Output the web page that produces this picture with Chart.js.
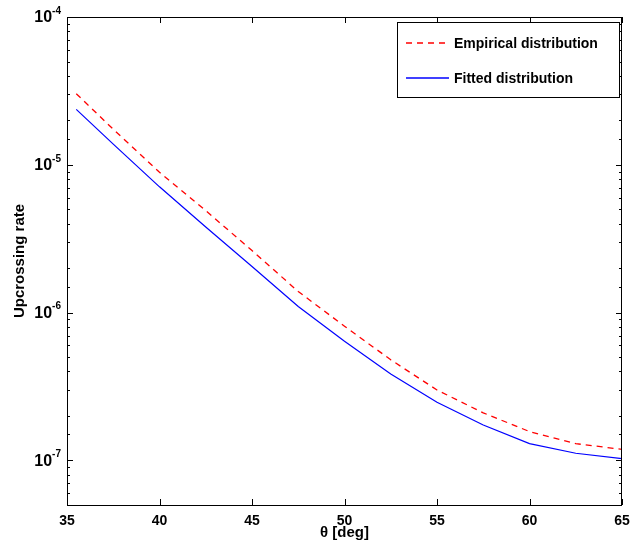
<!DOCTYPE html>
<html>
<head>
<meta charset="utf-8">
<script src="https://cdn.jsdelivr.net/npm/chart.js@4/dist/chart.umd.min.js"></script>
<style>
  html, body { margin: 0; padding: 0; background: #fff; }
  #wrap { width: 630px; height: 550px; }
</style>
</head>
<body>
<div id="wrap"><canvas id="rateChart" width="630" height="550"></canvas></div>
<script>
// angle in degrees
const theta = [35.5, 37.5, 40, 42.5, 45, 47.5, 50, 52.5, 55, 57.5, 60, 62.5, 65];
const empirical = [3.03e-5, 1.74e-5, 8.9e-6, 4.9e-6, 2.63e-6, 1.39e-6, 8.1e-7, 4.8e-7, 3.0e-7, 2.1e-7, 1.57e-7, 1.3e-7, 1.19e-7];
const fitted = [2.37e-5, 1.38e-5, 7.1e-6, 3.8e-6, 2.05e-6, 1.1e-6, 6.4e-7, 3.85e-7, 2.48e-7, 1.74e-7, 1.3e-7, 1.12e-7, 1.03e-7];
const xTicks = [35, 40, 45, 50, 55, 60, 65];
const yDecades = [-7, -6, -5, -4];

const FONT = "'Liberation Sans', Arial, sans-serif";

function toPoints(ys) {
  return theta.map((t, i) => ({ x: t, y: ys[i] }));
}

// frame, inward ticks, log labels and legend, drawn MATLAB style
const axesPlugin = {
  id: "axesPlugin",
  afterDraw(chart) {
    const ctx = chart.ctx;
    const a = chart.chartArea;
    const xs = chart.scales.x, ys = chart.scales.y;
    ctx.save();
    ctx.strokeStyle = "#000";
    ctx.lineWidth = 1;
    ctx.strokeRect(a.left + 0.5, a.top + 0.5, a.right - a.left - 1, a.bottom - a.top);

    // x ticks
    ctx.beginPath();
    xTicks.forEach(v => {
      const px = Math.round(xs.getPixelForValue(v)) + 0.5;
      ctx.moveTo(px, a.bottom); ctx.lineTo(px, a.bottom - 6);
      ctx.moveTo(px, a.top); ctx.lineTo(px, a.top + 6);
    });
    // y ticks (major + minor)
    ys.ticks.forEach(t => {
      const v = t.value;
      const m = v / Math.pow(10, Math.floor(Math.log10(v) + 1e-9));
      const major = Math.abs(m - 1) < 1e-6;
      const len = major ? 6 : 3;
      const py = Math.round(ys.getPixelForValue(v)) + 0.5;
      ctx.moveTo(a.left, py); ctx.lineTo(a.left + len, py);
      ctx.moveTo(a.right, py); ctx.lineTo(a.right - len, py);
    });
    ctx.stroke();

    // y labels 10^n
    ctx.fillStyle = "#000";
    ctx.textBaseline = "middle";
    yDecades.forEach(e => {
      const py = ys.getPixelForValue(Math.pow(10, e));
      ctx.font = "bold 10px " + FONT;
      ctx.textAlign = "left";
      const expText = "-" + Math.abs(e);
      const ew = ctx.measureText(expText).width;
      const right = a.left - 6;
      ctx.fillText(expText, right - ew, py - 6);
      ctx.font = "bold 16px " + FONT;
      ctx.textAlign = "right";
      ctx.fillText("10", right - ew, py + 1);
    });

    // axis titles
    ctx.font = "bold 15px " + FONT;
    ctx.textAlign = "center";
    ctx.fillText("\u03b8 [deg]", (a.left + a.right) / 2, 533);
    ctx.save();
    ctx.translate(20, (a.top + a.bottom) / 2);
    ctx.rotate(-Math.PI / 2);
    ctx.fillText("Upcrossing rate", 0, 0);
    ctx.restore();

    // legend
    const lx = 397, ly = 22, lw = a.right - 397 - 3, lh = 75;
    ctx.fillStyle = "#fff";
    ctx.fillRect(lx, ly, lw, lh);
    ctx.strokeStyle = "#000";
    ctx.lineWidth = 1;
    ctx.strokeRect(lx + 0.5, ly + 0.5, lw, lh);
    const legendColors = ["#ff0000", "#0000ff"];
    chart.data.datasets.forEach((ds, i) => {
      const yy = ly + 21 + i * 35;
      ctx.beginPath();
      ctx.strokeStyle = legendColors[i];
      ctx.lineWidth = 1.3;
      ctx.setLineDash(ds.borderDash || []);
      ctx.moveTo(406, yy); ctx.lineTo(449, yy);
      ctx.stroke();
      ctx.setLineDash([]);
      ctx.fillStyle = "#000";
      ctx.font = "bold 14px " + FONT;
      ctx.textAlign = "left";
      ctx.fillText(ds.label, 454, yy + 1);
    });
    ctx.restore();
  }
};

new Chart(document.getElementById("rateChart"), {
  type: "line",
  data: {
    datasets: [
      {
        label: "Empirical distribution",
        data: toPoints(empirical),
        borderColor: "#ff0000",
        borderWidth: 1.3,
        borderDash: [6, 5],
        pointRadius: 0,
        tension: 0
      },
      {
        label: "Fitted distribution",
        data: toPoints(fitted),
        borderColor: "#0000ff",
        borderWidth: 1.2,
        pointRadius: 0,
        tension: 0
      }
    ]
  },
  options: {
    responsive: false,
    animation: false,
    layout: { padding: { top: 17, right: 8, left: 0, bottom: 0 } },
    plugins: { legend: { display: false }, tooltip: { enabled: false } },
    scales: {
      x: {
        type: "linear",
        min: 35,
        max: 65,
        afterFit: s => { s.height = 45; s.paddingLeft = 0; s.paddingRight = 0; },
        afterBuildTicks: s => { s.ticks = xTicks.map(v => ({ value: v })); },
        grid: { display: false, drawTicks: false },
        border: { display: false },
        ticks: {
          padding: 8,
          color: "#000",
          font: { family: FONT, size: 14, weight: "bold" }
        }
      },
      y: {
        type: "logarithmic",
        min: 5e-8,
        max: 1e-4,
        afterFit: s => { s.width = 67; s.paddingTop = 0; s.paddingBottom = 0; },
        grid: { display: false, drawTicks: false },
        border: { display: false },
        ticks: { display: false }
      }
    }
  },
  plugins: [axesPlugin]
});
</script>
</body>
</html>
